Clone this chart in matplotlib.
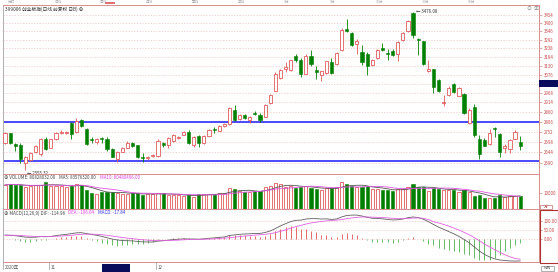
import numpy as np
import pandas as pd
import matplotlib
matplotlib.use('Agg')
import matplotlib.pyplot as plt
from matplotlib.patches import Rectangle

plt.rcParams['font.family'] = ['Noto Sans CJK SC', 'DejaVu Sans']

# daily candles
opens = [2695, 2744, 2686, 2680, 2592, 2607, 2645, 2634, 2712, 2669,
         2712, 2744, 2744, 2801, 2752, 2815, 2765, 2716, 2698, 2719,
         2716, 2660, 2609, 2648, 2669, 2691, 2680, 2618, 2616, 2625,
         2626, 2694, 2680, 2703, 2719, 2737, 2751, 2685, 2731, 2695,
         2731, 2768, 2759, 2783, 2792, 2869, 2819, 2841, 2815, 2854,
         2841, 2835, 2912, 2982, 3056, 3112, 3101, 3189, 3167, 3082,
         3189, 3105, 3075, 3086, 3152, 3140, 3228, 3361, 3333, 3265,
         3217, 3204, 3135, 3178, 3237, 3207, 3220, 3201, 3289, 3345,
         3470, 3294, 3281, 3099, 3109, 3041, 2908, 2958, 3018, 2952,
         2960, 2801, 2886, 2716, 2708, 2686, 2772, 2738, 2669, 2660,
         2716, 2699]
highs = [2750, 2748, 2694, 2693, 2625, 2645, 2680, 2720, 2725, 2716,
         2752, 2760, 2756, 2806, 2828, 2820, 2770, 2725, 2720, 2724,
         2722, 2665, 2652, 2673, 2703, 2700, 2684, 2640, 2626, 2636,
         2712, 2700, 2722, 2740, 2730, 2755, 2760, 2730, 2735, 2735,
         2765, 2780, 2790, 2798, 2890, 2900, 2850, 2848, 2836, 2865,
         2855, 2905, 2962, 3090, 3110, 3150, 3165, 3200, 3180, 3200,
         3225, 3130, 3100, 3160, 3175, 3215, 3365, 3425, 3340, 3295,
         3260, 3215, 3170, 3232, 3270, 3232, 3230, 3282, 3340, 3420,
         3476.08, 3300, 3285, 3162, 3112, 3050, 2958, 3010, 3025, 3005,
         2965, 2880, 2905, 2735, 2720, 2765, 2776, 2745, 2690, 2712,
         2760, 2728]
lows = [2687, 2690, 2651, 2590, 2555.32, 2600, 2640, 2628, 2655, 2665,
        2708, 2738, 2738, 2712, 2748, 2780, 2683, 2695, 2690, 2695,
        2650, 2618, 2593, 2644, 2665, 2672, 2615, 2595, 2605, 2618,
        2620, 2672, 2665, 2698, 2715, 2733, 2690, 2670, 2670, 2690,
        2728, 2745, 2755, 2778, 2788, 2810, 2815, 2822, 2800, 2842,
        2805, 2830, 2905, 2978, 3050, 3090, 3095, 3150, 3060, 3078,
        3125, 3050, 3040, 3080, 3082, 3135, 3222, 3340, 3255, 3200,
        3135, 3075, 3125, 3170, 3222, 3162, 3190, 3160, 3285, 3340,
        3300, 3197, 3135, 3090, 2970, 2975, 2896, 2950, 2965, 2948,
        2850, 2795, 2725, 2609, 2675, 2680, 2722, 2619, 2640, 2640,
        2712, 2658]
closes = [2744, 2695, 2675, 2609, 2622, 2641, 2676, 2712, 2660, 2712,
          2747, 2751, 2749, 2738, 2810, 2783, 2686, 2708, 2716, 2712,
          2660, 2623, 2648, 2669, 2695, 2677, 2623, 2614, 2622, 2630,
          2703, 2684, 2719, 2736, 2724, 2750, 2694, 2727, 2691, 2731,
          2762, 2764, 2786, 2794, 2882, 2814, 2846, 2826, 2833, 2850,
          2814, 2902, 2958, 3079, 3101, 3119, 3162, 3162, 3082, 3192,
          3140, 3094, 3095, 3156, 3086, 3211, 3358, 3349, 3259, 3286,
          3150, 3130, 3162, 3228, 3228, 3201, 3197, 3275, 3333, 3416,
          3323, 3288, 3141, 3112, 3004, 2981, 2916, 2997, 2971, 2997,
          2856, 2874, 2733, 2634, 2675, 2744, 2765, 2646, 2678, 2708,
          2752, 2675]
# volume in 10k units
volumes = [15200, 15800, 15200, 15200, 13750, 14560, 15200, 15200, 17060, 14560,
           14560, 14560, 14120, 14560, 15800, 15200, 12060, 10380, 9560, 11000,
           11000, 11000, 10000, 9560, 9560, 10000, 10000, 8940, 9560, 9560,
           10000, 10000, 8940, 8940, 8940, 8310, 8940, 7875, 9560, 9300,
           9800, 9500, 10200, 10000, 13500, 12800, 11500, 11000, 10800, 11200,
           11500, 13800, 14500, 16200, 15500, 14200, 14800, 13600, 14000, 14300,
           13500, 12800, 12000, 13200, 13000, 14000, 16800, 15800, 14500, 14000,
           14200, 14800, 12500, 12800, 12300, 11800, 11500, 12600, 12900, 13800,
           15500, 14200, 13800, 11500, 13500, 12800, 12200, 11800, 12000, 11000,
           11800, 10800, 8500, 9000, 7200, 7000, 6997, 9100, 7800, 8200,
           8600, 8083]
dif = [23, 22, 20, 16, 12, 11, 12, 15, 14, 16,
       20, 24, 27, 31, 35, 36, 31, 26, 22, 16,
       9, 2, -3, -6, -7, -8, -11, -13, -14, -14,
       -9, -7, -4, -1, 1, 3, 2, 2, 1, 3,
       6, 8, 11, 13, 21, 24, 27, 29, 30, 32,
       32, 37, 45, 58, 72, 84, 95, 102, 103, 109,
       111, 111, 109, 110, 107, 109, 120, 128, 130, 130,
       125, 118, 113, 112, 110, 107, 104, 105, 109, 116,
       120, 117, 108, 95, 80, 66, 54, 42, 30, 16,
       0, -18, -40, -62, -80, -94, -104, -110, -113, -115,
       -116, -114.98]
dea = [22, 22, 22, 21, 19, 17, 16, 16, 16, 16,
       17, 18, 20, 22, 25, 27, 28, 28, 27, 25,
       22, 18, 14, 10, 7, 4, 1, -2, -4, -6,
       -7, -7, -6, -5, -4, -2, -1, 0, 0, 1,
       2, 3, 5, 7, 9, 12, 15, 18, 20, 23,
       25, 27, 31, 36, 43, 51, 60, 68, 75, 82,
       88, 92, 96, 99, 101, 103, 106, 111, 115, 118,
       120, 120, 119, 118, 117, 115, 113, 111, 111, 112,
       114, 115, 113, 106, 95, 88, 80, 71, 61, 50,
       38, 25, 10, -7, -25, -40, -55, -69, -82, -93,
       -102, -106.04]
price_ticks = [3454, 3400, 3346, 3292, 3238, 3184, 3130, 3076, 3022, 2968,
               2914, 2860, 2806, 2752, 2698, 2644, 2590]
support_lines = [2806, 2598]
date_labels = ['2020年', '11', '12']
date_index = [0, 9, 30]

W, H = 558, 272
RED = '#e05a5a'
GREEN = '#008000'
AXC = '#d88c8c'
LAB = '#c84848'

fig = plt.figure(figsize=(W / 100, H / 100), dpi=100)
fig.patch.set_facecolor('white')
renderer = fig.canvas.get_renderer()


def px_axes(x0, y0, x1, y1):
    return fig.add_axes([x0 / W, 1 - y1 / H, (x1 - x0) / W, (y1 - y0) / H])


def style(ax):
    ax.set_xlim(-0.39, 104.7)
    ax.set_xticks([])
    for s in ax.spines.values():
        s.set_color(AXC)
        s.set_linewidth(0.7)
    ax.spines['left'].set_color('#b0b0b0')
    ax.yaxis.tick_right()
    ax.tick_params(axis='y', colors=AXC, labelcolor=LAB, labelsize=3.2,
                   length=2, width=0.5, pad=1.2)


x = np.arange(len(closes))
o = np.array(opens, float)
c = np.array(closes, float)
hi = np.array(highs, float)
lo = np.array(lows, float)
up = c >= o

# ---------------- price panel
ax = px_axes(3, 5, 539, 174)
style(ax)
ax.set_yscale('log')
ax.set_ylim(2535.3, 3521.9)
ax.set_yticks(price_ticks)
ax.set_yticklabels([str(t) for t in price_ticks])
ax.yaxis.set_minor_locator(matplotlib.ticker.NullLocator())
for t in price_ticks:
    ax.axhline(t, color='#f2c4c4', lw=0.5, ls=(0, (2, 2)), zorder=0)
for lvl in support_lines:
    ax.axhline(lvl, color='#1a1aff', lw=1.1, zorder=1)

bw = 0.62
ax.vlines(x[up], lo[up], hi[up], color=RED, lw=0.6, zorder=2)
ax.vlines(x[~up], lo[~up], hi[~up], color=GREEN, lw=0.6, zorder=2)
ax.bar(x[up], np.maximum(c[up] - o[up], 1.5), bottom=o[up], width=bw,
       facecolor='white', edgecolor=RED, lw=0.6, zorder=3)
ax.bar(x[~up], np.maximum(o[~up] - c[~up], 1.5), bottom=c[~up], width=bw,
       facecolor=GREEN, edgecolor=GREEN, lw=0.4, zorder=3)

imax = int(np.argmax(hi))
imin = int(np.argmin(lo))
ax.text(imax + 0.6, hi[imax], '← %.2f' % hi[imax], fontsize=3.2,
        color='#333333', va='center', ha='left', zorder=5)
ax.text(imin + 0.3, lo[imin] * 0.9985, '← %.2f' % lo[imin], fontsize=3.2,
        color='#333333', va='top', ha='left', zorder=5)

# ---------------- volume panel
axv = px_axes(3, 174, 539, 209.3)
style(axv)
axv.set_ylim(0, 22060)
axv.set_yticks([10000])
axv.set_yticklabels(['10000'])
vol = np.array(volumes, float)
axv.bar(x[up], vol[up], width=bw, facecolor='white', edgecolor=RED, lw=0.6)
axv.bar(x[~up], vol[~up], width=bw, facecolor=GREEN, edgecolor=GREEN, lw=0.4)
vs = pd.Series(vol)
axv.plot(x, vs.rolling(5, min_periods=1).mean(), color='#555555', lw=0.6)
axv.plot(x, vs.rolling(10, min_periods=1).mean(), color='#e050e0', lw=0.6)

# ---------------- MACD panel
axm = px_axes(3, 209.3, 539, 262)
style(axm)
axm.set_ylim(-120.9, 161)
axm.set_yticks([100, 50, 0])
axm.set_yticklabels(['100.00', '50.00', '0.00'])
for t in [100, 50, 0]:
    axm.axhline(t, color='#f2c4c4', lw=0.5, ls=(0, (2, 2)), zorder=0)
d1 = np.array(dif, float)
d2 = np.array(dea, float)
hist = 2 * (d1 - d2)
axm.vlines(x[hist >= 0], 0, hist[hist >= 0], color='#e05050', lw=0.6)
axm.vlines(x[hist < 0], 0, hist[hist < 0], color='#4caf4c', lw=0.6)
axm.plot(x, d1, color='#606060', lw=0.6)
axm.plot(x, d2, color='#e060e0', lw=0.6)

# ---------------- time axis
axt = px_axes(3, 262, 539, 272)
axt.set_xlim(-0.39, 104.7)
axt.set_ylim(0, 1)
axt.axis('off')
for lab, i in zip(date_labels, date_index):
    axt.plot([i - 0.4, i - 0.4], [0.35, 1], color='#999999', lw=0.5)
    axt.text(i, 0.45, lab, fontsize=3.2, color='#555555', va='center', ha='left')
axt.add_patch(Rectangle((19.0, 0.05), 5.5, 0.75, facecolor='#0b0b5c', edgecolor='none'))

# ---------------- header texts
fig.text(5 / W, 1 - 8.8 / H, '399006 创业板指(日线 前复权 日B) ⊕', fontsize=3.4,
         color='#333333', va='center')
fig.text(526 / W, 1 - 8.8 / H, '⊙', fontsize=3.6, color='#888888', va='center')
fig.text(533 / W, 1 - 8.8 / H, '▣', fontsize=3.6, color='#888888', va='center')


def colored_line(y, parts):
    xx = 3.5
    for txt, col in parts:
        t = fig.text(xx / W, 1 - y / H, txt, fontsize=3.2, color=col, va='center')
        xx += t.get_window_extent(renderer=renderer).width + 4
    return xx


colored_line(177.8, [('⊕ VOLUME: 80828032.00', '#444444'),
                     ('MA5: 83576320.00', '#444444'),
                     ('MA10: 80480496.00', '#e040e0')])
colored_line(213.0, [('⊕ MACD(12,26,9) DIF: -114.98', '#444444'),
                     ('DEA: -106.04', '#e040e0'),
                     ('MACD: -17.84', '#3030e0')])

# right-side boxes
fig.patches.append(Rectangle((539 / W, 1 - 87 / H), 19 / W, 7 / H, transform=fig.transFigure,
                             facecolor='#0b0b5c', edgecolor='none', zorder=10))
fig.patches.append(Rectangle((539.5 / W, 1 - 209 / H), 12 / W, 4.5 / H, transform=fig.transFigure,
                             facecolor='white', edgecolor='#c07070', lw=0.5))
fig.text(545.5 / W, 1 - 206.8 / H, '万', fontsize=2.8, color=LAB, ha='center', va='center')
fig.patches.append(Rectangle((539.5 / W, 1 - 263 / H), 18 / W, 53.5 / H, transform=fig.transFigure,
                             facecolor='none', edgecolor='#b03030', lw=0.8))
fig.patches.append(Rectangle((541 / W, 1 - 271 / H), 13 / W, 5.5 / H, transform=fig.transFigure,
                             facecolor='white', edgecolor='#909090', lw=0.5))
fig.text(547.5 / W, 1 - 268.3 / H, '比例', fontsize=2.6, color='#555555', ha='center', va='center')

# top tab strip
for i, tab in enumerate(['分时', '日线', '周线', '月线', '季线', '年线', '1分', '5分', '15分', '30分', '60分']):
    fig.text((8 + i * 46) / W, 1 - 1.8 / H, tab, fontsize=2.6, color='#aaaaaa', va='center')
fig.patches.append(Rectangle((105 / W, 1 - 3.5 / H), 10 / W, 2 / H, transform=fig.transFigure,
                             facecolor='#e07070', edgecolor='none'))

fig.savefig('out.png', dpi=100, facecolor='white')
